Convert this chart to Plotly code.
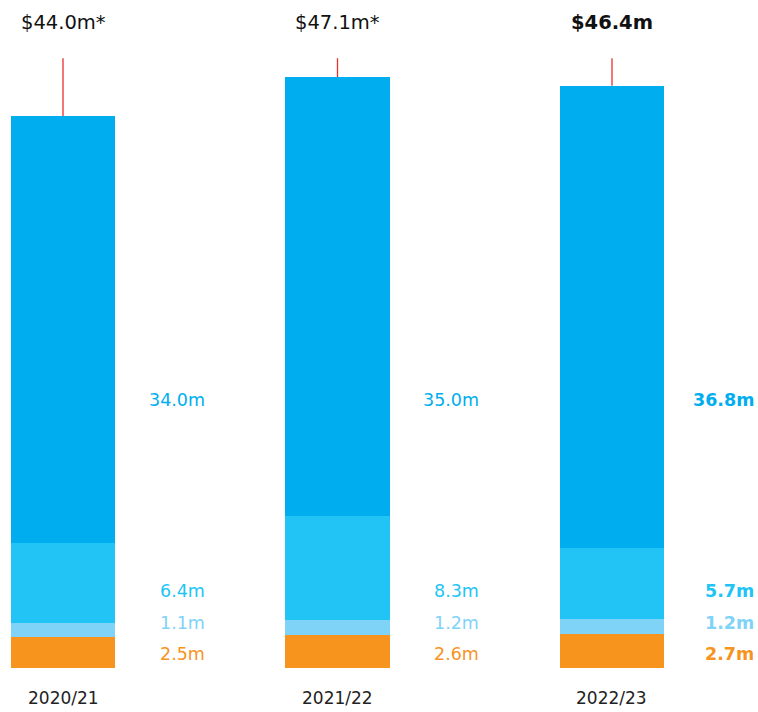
import plotly.graph_objects as go

categories = ["2020/21", "2021/22", "2022/23"]
orange_vals = [2.5, 2.6, 2.7]
light_vals = [1.1, 1.2, 1.2]
medium_vals = [6.4, 8.3, 5.7]
dark_vals = [34.0, 35.0, 36.8]
totals = [44.0, 47.1, 46.4]
total_labels = ["$44.0m*", "$47.1m*", "$46.4m"]
seg_labels = [
    ["2.5m", "2.6m", "2.7m"],
    ["1.1m", "1.2m", "1.2m"],
    ["6.4m", "8.3m", "5.7m"],
    ["34.0m", "35.0m", "36.8m"],
]
label_levels = [1.09, 3.56, 6.12, 21.35]  # y (data units) of right-hand labels
cap_level = 48.6  # top of red marker lines

colors = ["#F7941E", "#7FD3F7", "#21C4F5", "#00AEEF"]
series = [orange_vals, light_vals, medium_vals, dark_vals]

FONT = "DejaVu Sans"
xs = list(range(len(categories)))
fig = go.Figure()
for vals, col in zip(series, colors):
    fig.add_trace(go.Bar(x=xs, y=vals, marker=dict(color=col, line=dict(width=0)),
                         width=0.379, hoverinfo="skip"))

for i, t in enumerate(totals):
    fig.add_trace(go.Scatter(x=[i, i], y=[t, cap_level], mode="lines",
                             line=dict(color="#E8312A", width=1.3), hoverinfo="skip"))

ann = []
for i, cat in enumerate(categories):
    bold = i == len(categories) - 1
    ann.append(dict(x=i, y=51.45, text=("<b>%s</b>" % total_labels[i]) if bold else total_labels[i],
                    showarrow=False, xanchor="center", yanchor="middle",
                    font=dict(family=FONT, size=19.5, color="#111111")))
    ann.append(dict(x=i, y=-2.4, text=cat, showarrow=False, xanchor="center", yanchor="middle",
                    font=dict(family=FONT, size=17, color="#222222")))
    for k in range(4):
        txt = seg_labels[k][i]
        ann.append(dict(x=i + 0.524, y=label_levels[k], text=("<b>%s</b>" % txt) if bold else txt,
                        showarrow=False, xanchor="right", yanchor="middle",
                        font=dict(family=FONT, size=17.5, color=colors[k])))

fig.update_layout(
    width=758, height=712, barmode="stack", bargap=0,
    margin=dict(l=0, r=0, t=0, b=0),
    paper_bgcolor="white", plot_bgcolor="white", showlegend=False,
    xaxis=dict(range=[-0.2295, 2.5319], visible=False, fixedrange=True),
    yaxis=dict(range=[-3.51, 53.24], visible=False, fixedrange=True),
    annotations=ann,
)
fig.write_html("out.html")
